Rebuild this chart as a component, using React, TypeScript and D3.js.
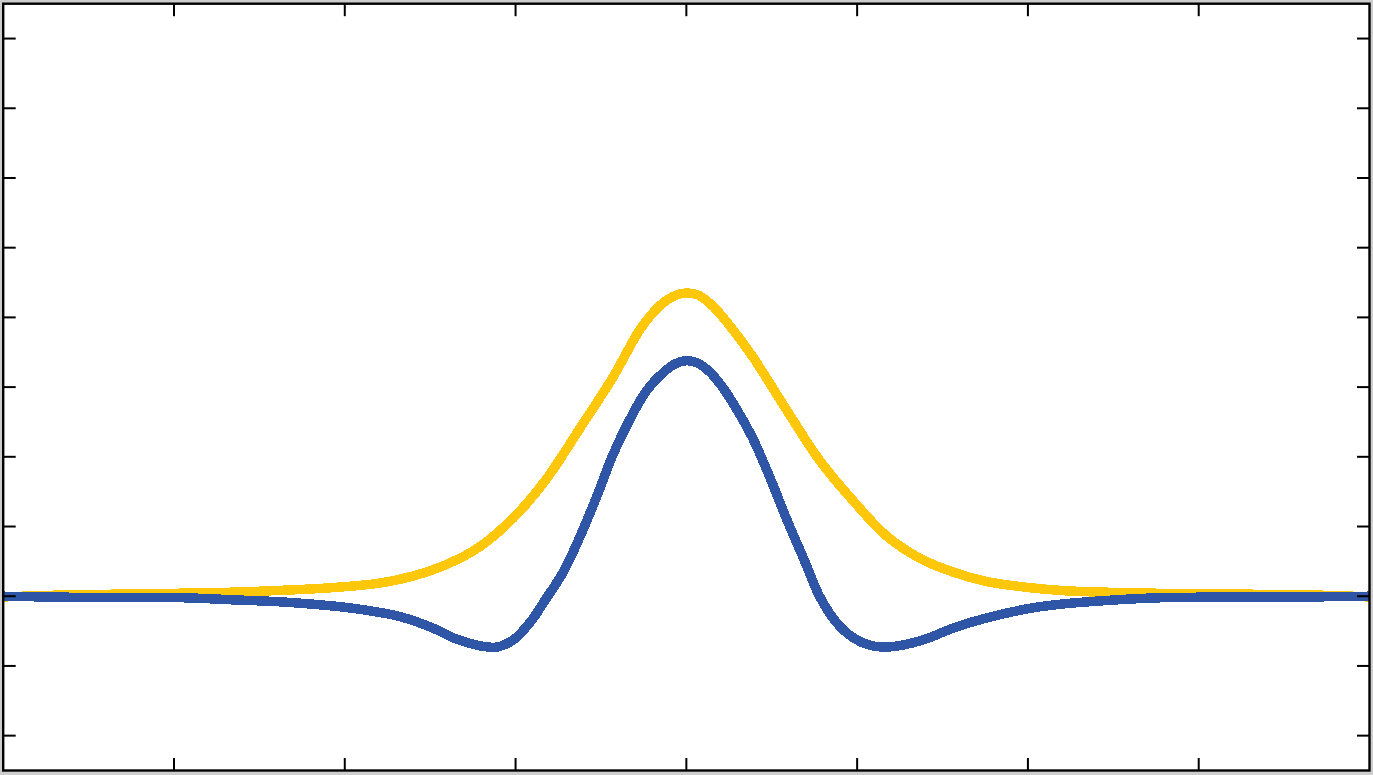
import * as d3 from "d3";

// values (x in axis units, y in axis units)
const blueX = [-4.0, -3.61, -2.97, -2.67, -2.38, -2.21, -2.03, -1.85, -1.68, -1.5, -1.35, -1.21, -1.11, -1.01, -0.91, -0.82, -0.72, -0.62, -0.52, -0.43, -0.33, -0.23, -0.13, -0.06, 0.0, 0.07, 0.14, 0.22, 0.3, 0.39, 0.49, 0.59, 0.69, 0.78, 0.88, 0.98, 1.07, 1.17, 1.37, 1.57, 1.76, 2.02, 2.21, 2.41, 2.6, 2.8, 3.63, 4.0];
const blueY = [0.0, -0.0015, -0.002, -0.005, -0.008, -0.011, -0.015, -0.021, -0.029, -0.044, -0.061, -0.071, -0.073, -0.062, -0.036, -0.003, 0.035, 0.087, 0.146, 0.203, 0.254, 0.296, 0.322, 0.334, 0.338, 0.334, 0.321, 0.297, 0.266, 0.226, 0.17, 0.109, 0.052, 0.0, -0.038, -0.06, -0.07, -0.073, -0.064, -0.045, -0.031, -0.017, -0.011, -0.007, -0.004, -0.002, -0.001, 0.0];

const yellowX = [-4.0, -3.61, -2.77, -2.32, -2.09, -1.79, -1.6, -1.4, -1.21, -1.01, -0.82, -0.62, -0.43, -0.27, -0.15, -0.06, 0.0, 0.07, 0.16, 0.28, 0.39, 0.59, 0.78, 0.98, 1.17, 1.37, 1.57, 1.76, 2.02, 2.21, 2.41, 2.8, 3.63, 4.0];
const yellowY = [-0.001, 0.002, 0.005, 0.009, 0.012, 0.019, 0.029, 0.046, 0.071, 0.113, 0.168, 0.242, 0.314, 0.383, 0.418, 0.432, 0.435, 0.432, 0.415, 0.38, 0.343, 0.266, 0.195, 0.136, 0.087, 0.054, 0.034, 0.021, 0.012, 0.008, 0.006, 0.004, 0.002, -0.001];

const xTicks = [-3, -2, -1, 0, 1, 2, 3];
const yTicks = [-0.2, -0.1, 0, 0.1, 0.2, 0.3, 0.4, 0.5, 0.6, 0.7, 0.8];

const W = 1373;
const H = 775;
const left = 3.2, right = 1369.5, top = 3.7, bottom = 770.5;
const tickLen = 12.5;

export default function App() {
  const x = d3.scaleLinear().domain([-4, 4]).range([left, right]);
  const y = d3.scaleLinear().domain([-0.25, 0.85]).range([bottom, top]);

  const line = d3.line<[number, number]>()
    .x(d => x(d[0]))
    .y(d => y(d[1]))
    .curve(d3.curveCatmullRom.alpha(0.5));

  const blue = line(blueX.map((v, i) => [v, blueY[i]]));
  const yellow = line(yellowX.map((v, i) => [v, yellowY[i]]));

  return (
    <svg width={W} height={H} style={{ position: "absolute", left: 0, top: 0 }}>
      <rect x={0} y={0} width={W} height={H} fill="#cdcdcd" />
      <rect x={left} y={top} width={right - left} height={bottom - top} fill="#ffffff" />
      <g>
        <path d={yellow ?? ""} fill="none" stroke="#ffc70a" strokeWidth={9.5} shapeRendering="crispEdges" />
        <path d={blue ?? ""} fill="none" stroke="#2f55a6" strokeWidth={9.5} shapeRendering="crispEdges" />
      </g>
      <g stroke="#000" strokeWidth={2}>
        {xTicks.map(t => (
          <g key={"x" + t}>
            <line x1={x(t)} x2={x(t)} y1={top} y2={top + tickLen} />
            <line x1={x(t)} x2={x(t)} y1={bottom} y2={bottom - tickLen} />
          </g>
        ))}
        {yTicks.map(t => (
          <g key={"y" + t}>
            <line x1={left} x2={left + tickLen} y1={y(t)} y2={y(t)} />
            <line x1={right} x2={right - tickLen} y1={y(t)} y2={y(t)} />
          </g>
        ))}
      </g>
      <rect x={left} y={top} width={right - left} height={bottom - top} fill="none" stroke="#000" strokeWidth={2.4} />
    </svg>
  );
}
